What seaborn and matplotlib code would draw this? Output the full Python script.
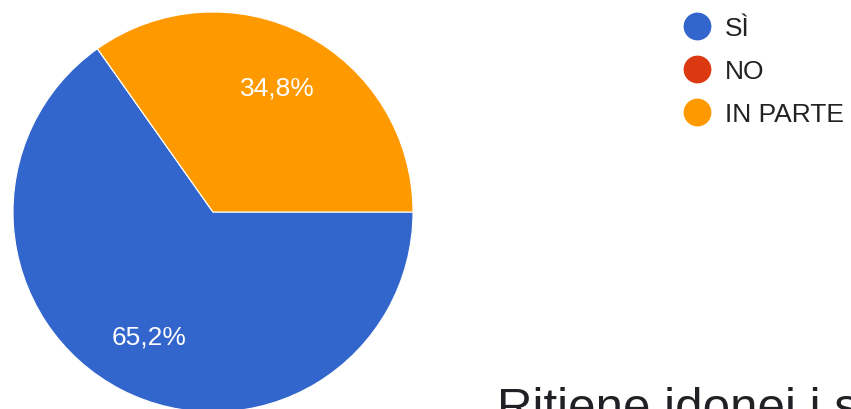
import matplotlib
matplotlib.use("Agg")
import matplotlib.pyplot as plt
from matplotlib.lines import Line2D
import seaborn as sns

labels = ["SÌ", "NO", "IN PARTE"]
values = [65.2, 0.0, 34.8]
colors = ["#3366CC", "#DC3912", "#FF9900"]
next_title = "Ritiene idonei i sistemi di valutazione adottati"

sns.set_theme(style="white")
plt.rcParams["font.family"] = ["Liberation Sans", "DejaVu Sans"]
palette = sns.color_palette(colors)

W, H = 851, 410
fig = plt.figure(figsize=(W / 100, H / 100), dpi=100)
fig.patch.set_facecolor("white")

cx, cy, r = 213, 213, 200
ax = fig.add_axes([(cx - r) / W, (H - cy - r) / H, 2 * r / W, 2 * r / H])


def fmt(p):
    return (f"{p:.1f}%".replace(".", ",")) if p > 0.05 else ""


wedges, texts, autotexts = ax.pie(
    values,
    colors=palette,
    startangle=0,
    counterclock=False,
    autopct=fmt,
    pctdistance=0.7,
    radius=1.0,
    wedgeprops=dict(edgecolor="white", linewidth=0.8),
    textprops=dict(color="white", fontsize=19),
)
ax.set_xlim(-1, 1)
ax.set_ylim(-1, 1)
ax.set_aspect("equal")
ax.axis("off")

handles = [Line2D([0], [0], marker="o", linestyle="none", markersize=19,
                  markerfacecolor=c, markeredgecolor=c) for c in palette]
fig.legend(handles, labels, loc="upper left",
           bbox_to_anchor=(681 / W, 1 - 17 / H), frameon=False,
           fontsize=19, labelspacing=0.72, handletextpad=0.45,
           handlelength=1.2, borderaxespad=0, borderpad=0,
           labelcolor="#222222")

fig.text(497 / W, 1 - 422 / H, next_title, fontsize=35.5, color="#202124",
         ha="left", va="baseline")

fig.savefig("out.png", dpi=100)
